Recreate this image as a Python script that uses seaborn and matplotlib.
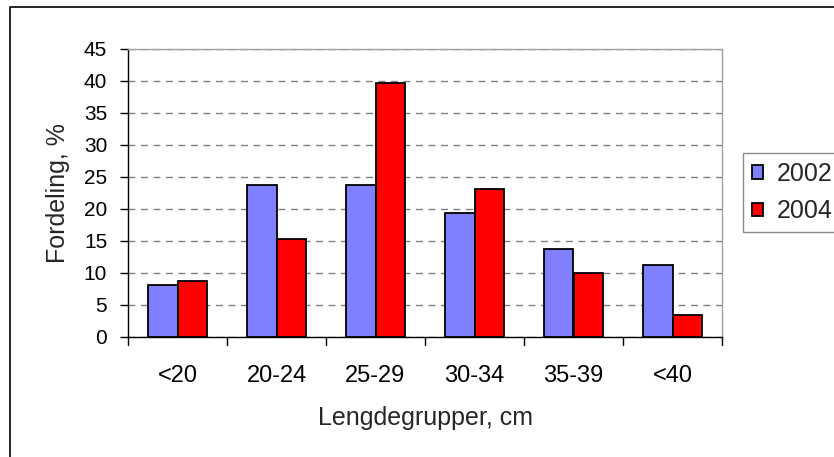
import seaborn as sns
import pandas as pd
import matplotlib.pyplot as plt
from matplotlib.lines import Line2D

# values
groups = ['<20', '20-24', '25-29', '30-34', '35-39', '<40']
years = ['2002', '2004']
share_2002 = [8.1, 23.7, 23.7, 19.4, 13.7, 11.2]
share_2004 = [8.7, 15.3, 39.7, 23.1, 10.0, 3.4]

data = pd.DataFrame({
    'gruppe': groups * 2,
    'aar': [years[0]] * len(groups) + [years[1]] * len(groups),
    'andel': share_2002 + share_2004,
})

sns.set_style('white')
plt.rcParams['font.family'] = ['Liberation Sans', 'DejaVu Sans']

fig = plt.figure(figsize=(8.34, 4.57), dpi=100)
ax = fig.add_axes([128 / 834, 1 - 337 / 457, (722 - 128) / 834, (337 - 49) / 457])

sns.barplot(data=data, x='gruppe', y='andel', hue='aar', order=groups,
            palette={'2002': '#8080ff', '2004': '#ff0000'}, width=0.6,
            edgecolor='black', linewidth=1.3, saturation=1, ax=ax, zorder=3)

ax.set_ylim(0, 45)
ax.set_xlim(-0.5, 5.5)
ax.set_yticks(range(0, 50, 5))
ax.set_xticks(range(len(groups)))
ax.set_xticklabels(groups)
ax.tick_params(axis='y', labelsize=15, colors='black', left=True, length=6, width=1, pad=9)
ax.tick_params(axis='x', labelsize=17, colors='black', length=0, pad=20)

# ticks between categories
for b in [x - 0.5 for x in range(len(groups) + 1)]:
    ax.plot([b, b], [0, -1.25], color='black', lw=1, clip_on=False)

ax.yaxis.grid(True, linestyle=(0, (5, 4)), color='#808080', lw=1)
ax.set_axisbelow(True)
for side in ['top', 'right']:
    ax.spines[side].set_color('#a0a0a0')
    ax.spines[side].set_linewidth(1)
for side in ['left', 'bottom']:
    ax.spines[side].set_color('black')
    ax.spines[side].set_linewidth(1)

ax.set_xlabel('Lengdegrupper, cm', fontsize=18, labelpad=14)
ax.set_ylabel('Fordeling, %', fontsize=18, labelpad=10)

leg = ax.legend(loc='upper left', bbox_to_anchor=(743 / 834, 1 - 153 / 457),
                bbox_transform=fig.transFigure, fontsize=18, frameon=True,
                fancybox=False, handlelength=0.45, handleheight=0.45,
                handletextpad=0.55, borderpad=0.35, labelspacing=0.55,
                borderaxespad=0)
leg.get_frame().set_edgecolor('#707070')
leg.get_frame().set_linewidth(1)
for h in leg.legend_handles:
    h.set_linewidth(1.3)

# outer border (right and bottom edges fall outside the picture)
fig.lines.append(Line2D([10 / 834, 10 / 834, 1.0], [0.0, 1 - 7 / 457, 1 - 7 / 457],
                        transform=fig.transFigure, color='black', lw=1.2))

fig.savefig('out.png', dpi=100)
